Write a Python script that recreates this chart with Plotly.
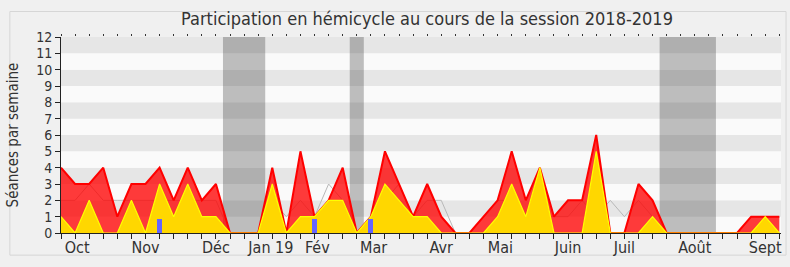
import plotly.graph_objects as go

# ---- data (weekly, index 0 = first week of the session) ----
semaines = list(range(52))
presence = [4, 3, 3, 4, 1, 3, 3, 4, 2, 4, 2, 3, 0, 0, 0, 4, 0, 5, 1, 2,
            4, 0, 1, 5, 3, 1, 3, 1, 0, 0, 1, 2, 5, 2, 4, 1, 2, 2, 6, 0,
            0, 3, 2, 0, 0, 0, 0, 0, 0, 1, 1, 1]
interventions = [1, 0, 2, 0, 0, 2, 0, 3, 1, 3, 1, 1, 0, 0, 0, 3, 0, 1, 1, 2,
                 2, 0, 1, 3, 2, 1, 1, 0, 0, 0, 0, 1, 3, 1, 4, 0, 0, 0, 5, 0,
                 0, 0, 1, 0, 0, 0, 0, 0, 0, 0, 1, 0]
mediane = [2, 2, 3, 2, 2, 2, 2, 2, 2, 2, 2, 2, 0, 0, 0, 2, 1, 2, 1, 3,
           2, 0, 1, 2, 3, 1, 2, 2, 0, 0, 1, 2, 2, 1, 1, 1, 1, 2, 1, 2,
           1, 2, 1, 0, 0, 0, 0, 0, 0, 1, 1, 1]
questions_semaines = [7, 18, 22]
questions_valeurs = [0.87, 0.87, 0.87]
vacances_debut = [11.5, 20.5, 42.5]
vacances_fin = [14.5, 21.5, 46.5]
mois_labels = ["Oct", "Nov", "Déc", "Jan 19", "Fév", "Mar", "Avr", "Mai",
               "Juin", "Juil", "Août", "Sept"]
mois_positions = [1.15, 6.0, 11.0, 14.9, 18.2, 22.2, 27.0, 31.2, 36.0, 40.0, 45.0, 50.0]

FONT = "DejaVu Sans Condensed, DejaVu Sans, sans-serif"

fig = go.Figure()
fig.add_trace(go.Scatter(x=semaines, y=mediane, mode="lines",
                         line=dict(color="#b8b8b8", width=1), hoverinfo="skip"))
fig.add_trace(go.Scatter(x=semaines, y=presence, mode="lines", fill="tozeroy",
                         fillcolor="rgba(255,0,0,0.77)",
                         line=dict(color="#ff0000", width=2)))
fig.add_trace(go.Scatter(x=semaines, y=interventions, mode="lines", fill="tozeroy",
                         fillcolor="#ffd700",
                         line=dict(color="#ffff00", width=1.2)))
# bars on an overlaying axis so they are drawn above the filled areas
fig.add_trace(go.Bar(x=questions_semaines, y=questions_valeurs, width=0.36,
                     xaxis="x2", marker=dict(color="#6464ff", line=dict(width=0))))

shapes = []
# outer panel border
shapes.append(dict(type="rect", xref="paper", yref="paper", x0=-0.071, x1=1.007,
                   y0=-0.113, y1=1.13, fillcolor="rgba(0,0,0,0)",
                   line=dict(color="#d6d6d6", width=1), layer="below"))
# alternating stripes
for k in range(0, 12):
    shapes.append(dict(type="rect", xref="paper", yref="y", x0=0, x1=1,
                       y0=k, y1=k + 1,
                       fillcolor="#e6e6e6" if k % 2 == 1 else "#fafafa",
                       line=dict(width=0), layer="below"))
for a, b in zip(vacances_debut, vacances_fin):
    shapes.append(dict(type="rect", xref="x", yref="paper", x0=a, x1=b,
                       y0=0, y1=1, fillcolor="rgba(50,50,50,0.3)",
                       line=dict(width=0), layer="below"))

fig.update_layout(
    width=790, height=267,
    margin=dict(l=61, r=9, t=37, b=34),
    paper_bgcolor="#f0f0f0", plot_bgcolor="#fafafa",
    showlegend=False, shapes=shapes,
    font=dict(family=FONT, color="#333333"),
    title=dict(text="Participation en hémicycle au cours de la session 2018-2019",
               x=427 / 790, xanchor="center", y=1 - 19 / 267, yanchor="middle",
               font=dict(size=18, color="#333333", family=FONT)),
    bargap=0,
    xaxis=dict(range=[0, 51.12], tickmode="array", tickvals=mois_positions,
               ticktext=mois_labels, ticks="", showgrid=False, zeroline=False,
               showline=True, linecolor="#222222", linewidth=1,
               tickfont=dict(size=16, color="#333333"),
               minor=dict(tickmode="linear", tick0=0, dtick=1, ticks="outside",
                          ticklen=5, tickcolor="#222222", showgrid=False)),
    xaxis2=dict(overlaying="x", side="top", range=[0, 51.12], showticklabels=False,
                tickmode="linear", tick0=0, dtick=1, ticks="outside", ticklen=2,
                tickcolor="#333333", showgrid=False, showline=False, zeroline=False),
    yaxis=dict(range=[0, 12], tickmode="linear", tick0=0, dtick=1, ticks="outside",
               ticklen=5, tickcolor="#222222", showgrid=False, zeroline=False,
               showline=True, linecolor="#222222", linewidth=1,
               tickfont=dict(size=14, color="#333333"),
               title=dict(text="Séances par semaine", font=dict(size=15, color="#333333"),
                          standoff=13)),
)

fig.write_html("out.html")
